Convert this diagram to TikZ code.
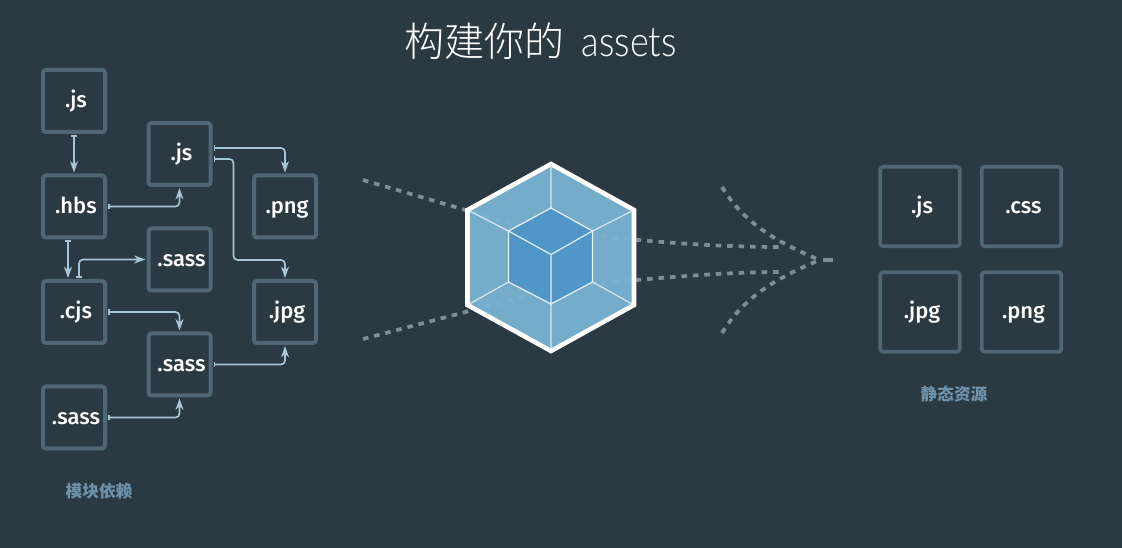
\documentclass[tikz,border=0pt]{standalone}
\usepackage{fontspec}
\setmainfont{Open Sans}
\newfontfamily\lbl{Fira Sans Medium}
\newfontfamily\cjk{Noto Sans CJK SC}
\newfontfamily\cjkl{Noto Sans CJK SC Light}
\newfontfamily\ttl{Lato Light}
\usetikzlibrary{arrows.meta,calc}
\definecolor{bg}{HTML}{2B3A42}
\definecolor{boxc}{HTML}{4F6674}
\definecolor{linec}{HTML}{A5C6D6}
\definecolor{capc}{HTML}{6E92AB}
\definecolor{dashc}{HTML}{7F8E96}
\definecolor{cubeo}{HTML}{7AB3D1}
\definecolor{cubei}{HTML}{5097C7}
\tikzset{
 x=0.75pt,y=-0.75pt,
 modbox/.style={draw=boxc,line width=3pt,rounded corners=2.2pt,minimum size=46.5pt,inner sep=0,text=white,text height=12pt,text depth=2pt,font=\lbl\fontsize{16.5}{18}\selectfont,execute at begin node=\hspace*{3pt}},
 bigbox/.style={modbox,line width=2.8pt,minimum size=59.6pt},
 conn/.style={draw=linec,line width=1.25pt,rounded corners=3pt,{Bar[width=4pt,length=1pt]}-{Stealth[length=8.5pt,width=6pt,inset=2.5pt]}},
 flow/.style={draw=dashc,line width=2.8pt,dash pattern=on 4.2pt off 4.4pt},
 capnode/.style={text=capc,font=\cjk\bfseries\fontsize{12.5}{14}\selectfont},
}
\begin{document}
\begin{tikzpicture}
\path[fill=bg,use as bounding box] (0,0) rectangle (1122,548);
\node[text=white,font=\cjkl\fontsize{30}{34}\selectfont] (title) at (540.5,41) {构建你的\hspace{13pt}{\ttl\fontsize{28}{34}\selectfont\scalebox{0.97}[1.12]{assets}}};

% flows behind cube
\coordinate (L1) at (363,180);\coordinate (L2) at (363,339);
\coordinate (La) at (520,226);\coordinate (Lb) at (530,295);
\coordinate (Ra) at (590,235);\coordinate (Rb) at (590,284);
\coordinate (Rc) at (780,247);\coordinate (Rd) at (780,272);
\coordinate (R1) at (722,187);\coordinate (R2) at (722,333);\coordinate (Rs) at (823,260);\coordinate (Rt) at (833,260);
\draw[flow] (L1) -- (La);
\draw[flow] (L2) -- (Lb);
\draw[flow] (Ra) .. controls (650,242) and (720,247) .. (Rc);
\draw[flow] (Rb) .. controls (650,279) and (720,272) .. (Rd);
\draw[flow] (R1) .. controls (745,225) and (780,243) .. (817,259);
\draw[flow] (R2) .. controls (745,295) and (780,277) .. (817,261);
\draw[draw=dashc,line width=2.8pt] (Rs) -- (Rt);

% cube
\coordinate (t) at (551,164);\coordinate (tr) at (634,210);\coordinate (br) at (634,305);
\coordinate (b) at (551,351);\coordinate (bl) at (467.5,305);\coordinate (tl) at (467.5,210);
\coordinate (it) at (551,208);\coordinate (itr) at (592.5,231);\coordinate (ibr) at (592.5,282);
\coordinate (ib) at (551,304);\coordinate (ibl) at (508.5,282);\coordinate (itl) at (508.5,231);\coordinate (ic) at (551,254.5);
\fill[cubeo,opacity=.95] (t)--(tr)--(br)--(b)--(bl)--(tl)--cycle;
\fill[cubei] (it)--(itr)--(ibr)--(ib)--(ibl)--(itl)--cycle;
\draw[white,opacity=.7,line width=.9pt] (t)--(it) (tr)--(itr) (br)--(ibr) (b)--(ib) (bl)--(ibl) (tl)--(itl);
\draw[white,opacity=.85,line width=.9pt] (it)--(itr)--(ibr)--(ib)--(ibl)--(itl)--cycle (ic)--(itl) (ic)--(itr) (ic)--(ib);
\draw[white,line width=3.4pt,line join=miter] (t)--(tr)--(br)--(b)--(bl)--(tl)--cycle;

% left boxes
\node[modbox] (a) at (74,101) {.js};
\node[modbox] (h) at (74,206.5) {.hbs};
\node[modbox] (c) at (74,312) {.cjs};
\node[modbox] (s3) at (74,417.5) {.sass};
\node[modbox] (j) at (179.5,154) {.js};
\node[modbox] (s1) at (179.5,259.5) {.sass};
\node[modbox] (s2) at (179.5,364.5) {.sass};
\node[modbox] (p) at (285,206.5) {.png};
\node[modbox] (g) at (285,312) {.jpg};

% connectors
\draw[conn] ($(a.south)+(0,1)$) -- ($(h.north)+(0,-1)$);
\draw[conn] ($(h.east)+(1,0)$) -| ($(j.south)+(0,1)$);
\draw[conn] ($(h.south)+(-6,1)$) -- ($(c.north)+(-6,-1)$);
\draw[conn] ($(c.north)+(5,-1)$) |- ($(s1.west)+(-1,0)$);
\draw[conn] ($(j.east)+(1,-6)$) -| ($(p.north)+(0,-1)$);
\draw[conn] ($(j.east)+(1,5)$) -- (233.5,159) -- (233.5,260) -- (285,260) -- ($(g.north)+(0,-1)$);
\draw[conn] ($(c.east)+(1,0)$) -| ($(s2.north)+(0,-1)$);
\draw[conn] ($(s3.east)+(1,0)$) -| ($(s2.south)+(0,1)$);
\draw[conn] ($(s2.east)+(1,0)$) -| ($(g.south)+(0,1)$);

% right boxes
\node[bigbox] (rj) at (920,206.5) {.js};
\node[bigbox] (rc) at (1021.5,206.5) {.css};
\node[bigbox] (rg) at (920,312) {.jpg};
\node[bigbox] (rp) at (1021.5,312) {.png};

\node[capnode] (c1) at (99,491) {模块依赖};
\node[capnode] (c2) at (954,394) {静态资源};
\end{tikzpicture}
\end{document}
